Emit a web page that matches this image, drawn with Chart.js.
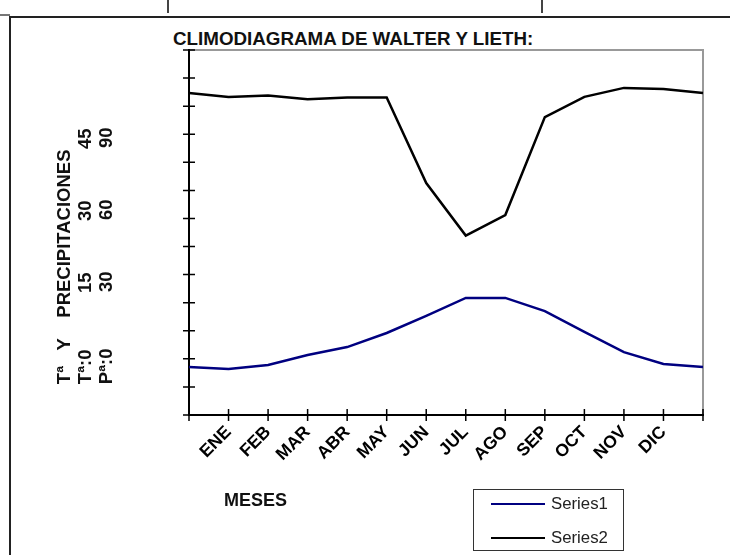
<!DOCTYPE html>
<html lang="es">
<head>
  <meta charset="UTF-8">
  <title>Climodiagrama de Walter y Lieth</title>
  <script src="https://cdn.jsdelivr.net/npm/chart.js"></script>
  <style>
    body { margin: 0; background: #fff; font-family: "Liberation Sans", Arial, sans-serif; }
    #page { position: relative; width: 730px; height: 555px; overflow: hidden; }
    #page canvas { position: absolute; left: 0; top: 0; }
    .rule { position: absolute; background: #222; }
    #title { position: absolute; left: 173px; top: 30px; font-size: 18.8px; line-height: 1; font-weight: bold; color: #111; white-space: nowrap; }
    #legend { position: absolute; left: 473px; top: 489px; width: 151px; height: 62px; border: 1.5px solid #333; box-sizing: border-box; }
    #legend .item { position: absolute; left: 17px; height: 20px; display: flex; align-items: center; font-size: 16.8px; color: #222; }
    #legend .swatch { width: 54px; height: 0; border-top: 2.5px solid; margin-right: 6px; }
  </style>
</head>
<body>
<div id="page">
  <!-- lineas del documento alrededor del grafico -->
  <div class="rule" style="left:167px; top:0; width:1.5px; height:13px; background:#444;"></div>
  <div class="rule" style="left:541px; top:0; width:1.5px; height:13px; background:#444;"></div>
  <div class="rule" style="left:0; top:14px; width:10px; height:1.5px; background:#777;"></div>
  <div class="rule" style="left:9px; top:16px; width:721px; height:2px;"></div>
  <div class="rule" style="left:9px; top:16px; width:2px; height:539px;"></div>

  <div id="title">CLIMODIAGRAMA DE WALTER Y LIETH:</div>
  <canvas id="climoChart" width="730" height="555"></canvas>
  <div id="legend"></div>
</div>

<script>
  // datos (14 puntos, el primero y el ultimo sin etiqueta)
  const months = ['', 'ENE', 'FEB', 'MAR', 'ABR', 'MAY', 'JUN', 'JUL', 'AGO', 'SEP', 'OCT', 'NOV', 'DIC', ''];
  const series1 = [17.1, 16.4, 17.8, 21.4, 24.2, 29.2, 35.3, 41.7, 41.7, 37.0, 29.6, 22.4, 18.2, 17.1];
  const series2 = [114.7, 113.3, 113.8, 112.5, 113.1, 113.1, 82.6, 63.9, 71.2, 106.1, 113.3, 116.5, 116.1, 114.7];
  const seriesNames = ['Series1', 'Series2'];
  const yTitleLines = [
    '      Tª   Y    PRECIPITACIONES',
    '      Tª:0           15          30          45',
    '      Pª:0           30          60          90'
  ];
  const xTitle = '       MESES';

  const fontFamily = '"Liberation Sans", Arial, sans-serif';

  // marco gris del area de trazado
  const plotFrame = {
    id: 'plotFrame',
    beforeDraw(chart) {
      const {ctx, chartArea: a} = chart;
      ctx.save();
      ctx.strokeStyle = '#999';
      ctx.lineWidth = 2;
      ctx.strokeRect(a.left, a.top, a.right - a.left, a.bottom - a.top);
      ctx.restore();
    }
  };

  // marcas de division que cruzan los ejes
  const crossTicks = {
    id: 'crossTicks',
    afterDraw(chart) {
      const {ctx, scales: {x, y}} = chart;
      ctx.save();
      ctx.strokeStyle = '#000';
      ctx.lineWidth = 1.5;
      ctx.beginPath();
      x.ticks.forEach((t, i) => {
        const px = x.getPixelForTick(i);
        ctx.moveTo(px, x.top - 6);
        ctx.lineTo(px, x.top + 6);
      });
      y.ticks.forEach((t, i) => {
        const py = y.getPixelForTick(i);
        ctx.moveTo(y.right - 6, py);
        ctx.lineTo(y.right + 6, py);
      });
      ctx.stroke();
      ctx.restore();
    }
  };

  const chart = new Chart(document.getElementById('climoChart'), {
    type: 'line',
    data: {
      labels: months,
      datasets: [{
        label: seriesNames[0],
        data: series1,
        borderColor: '#000080',
        borderWidth: 2.5,
        pointRadius: 0,
        tension: 0
      }, {
        label: seriesNames[1],
        data: series2,
        borderColor: '#000000',
        borderWidth: 2.5,
        pointRadius: 0,
        tension: 0
      }]
    },
    options: {
      responsive: false,
      animation: false,
      layout: { padding: { left: 50, top: 50, right: 27, bottom: 0 } },
      plugins: {
        legend: { display: false },
        tooltip: { enabled: false }
      },
      scales: {
        x: {
          offset: false,
          grid: { display: false, offset: false, drawTicks: false },
          border: { display: true, color: '#000', width: 2 },
          ticks: {
            autoSkip: false,
            minRotation: 45,
            maxRotation: 45,
            padding: 7,
            color: '#000',
            font: { family: fontFamily, size: 17.5, weight: 'bold' }
          },
          title: {
            display: true,
            text: xTitle,
            align: 'start',
            color: '#111',
            padding: { top: 4, bottom: 43 },
            font: { family: fontFamily, size: 18, weight: 'bold', lineHeight: 1.2 }
          },
          afterFit(scale) { scale.height = 140; }
        },
        y: {
          min: 0,
          max: 130,
          ticks: { stepSize: 10, display: false },
          grid: { display: false, drawTicks: false },
          border: { display: true, color: '#000', width: 2 },
          title: {
            display: true,
            text: yTitleLines,
            align: 'start',
            color: '#111',
            padding: { top: 4, bottom: 0 },
            font: { family: fontFamily, size: 18.5, weight: 'bold', lineHeight: 1.15 }
          },
          afterFit(scale) { scale.width = 139; }
        }
      }
    },
    plugins: [plotFrame, crossTicks]
  });

  // leyenda en HTML a partir de los datasets
  const legendBox = document.getElementById('legend');
  chart.data.datasets.forEach((ds, i) => {
    const item = document.createElement('div');
    item.className = 'item';
    item.style.top = (4 + i * 34) + 'px';
    const sw = document.createElement('span');
    sw.className = 'swatch';
    sw.style.borderTopColor = ds.borderColor;
    const txt = document.createElement('span');
    txt.textContent = ds.label;
    item.appendChild(sw);
    item.appendChild(txt);
    legendBox.appendChild(item);
  });
</script>
</body>
</html>
